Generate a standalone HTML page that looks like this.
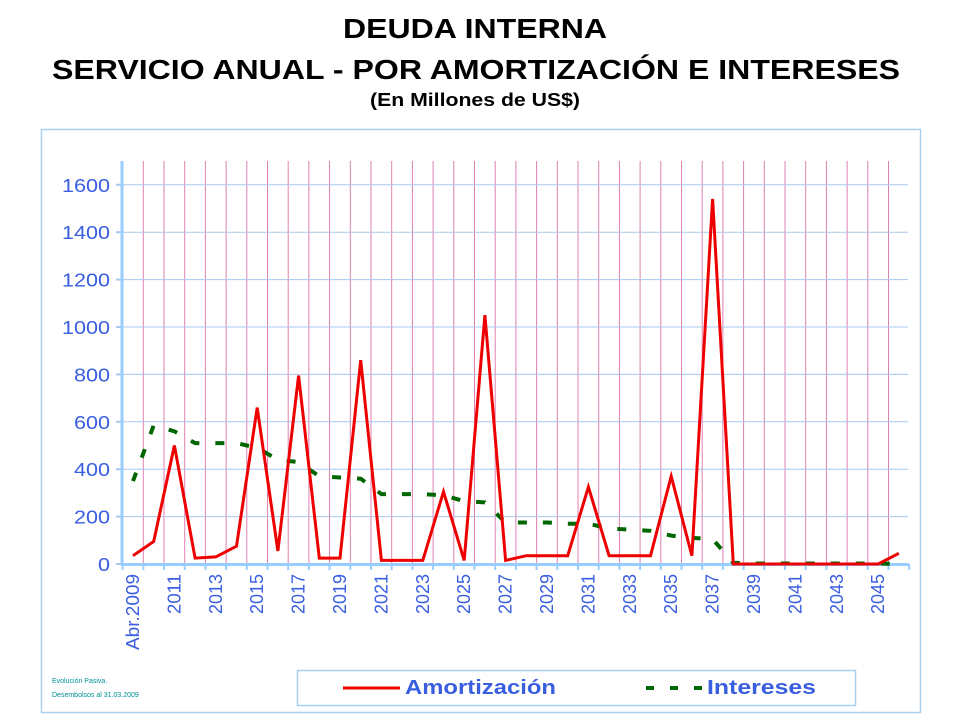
<!DOCTYPE html>
<html><head><meta charset="utf-8"><style>
body{margin:0;background:#fff;}
svg{display:block;font-family:"Liberation Sans",sans-serif;}
</style></head><body>
<svg width="960" height="720" viewBox="0 0 960 720">
<text x="343" y="38" font-size="28" font-weight="bold" textLength="264" lengthAdjust="spacingAndGlyphs">DEUDA INTERNA</text>
<text x="52" y="79" font-size="28" font-weight="bold" textLength="848" lengthAdjust="spacingAndGlyphs">SERVICIO ANUAL - POR AMORTIZACIÓN E INTERESES</text>
<text x="370" y="106" font-size="18" font-weight="bold" textLength="210" lengthAdjust="spacingAndGlyphs">(En Millones de US$)</text>
<rect x="41.5" y="129.5" width="879" height="583" fill="none" stroke="#a8d0f0" stroke-width="1.5"/>
<g id="grid"></g>
<g id="lbl" fill="#3a5ee0" font-size="18"></g>
<rect x="297.5" y="670.5" width="558" height="35" fill="none" stroke="#a8d0f0" stroke-width="1.5"/>
<line x1="343" y1="688" x2="400" y2="688" stroke="#ee0000" stroke-width="3"/>
<text x="405" y="694" font-size="20" font-weight="bold" fill="#3a5ee0" textLength="151" lengthAdjust="spacingAndGlyphs">Amortización</text>
<line x1="646" y1="688" x2="705" y2="688" stroke="#006600" stroke-width="4" stroke-dasharray="8,16"/>
<text x="707" y="694" font-size="20" font-weight="bold" fill="#3a5ee0" textLength="109" lengthAdjust="spacingAndGlyphs">Intereses</text>
<text x="52" y="683" font-size="7" fill="#009090">Evolución Pasiva.</text>
<text x="52" y="697" font-size="7" fill="#009090">Desembolsos al 31.03.2009</text>
</svg>
<script>
var ns="http://www.w3.org/2000/svg",g=document.getElementById('grid'),L=document.getElementById('lbl');
function el(p,t,a,txt){var e=document.createElementNS(ns,t);for(var k in a)e.setAttribute(k,a[k]);if(txt)e.textContent=txt;p.appendChild(e);return e;}
var x0=122.6,w=20.7,base=564,s=0.237;
for(var k=1;k<38;k++){var x=x0+w*k;el(g,'line',{x1:x,y1:161,x2:x,y2:564,stroke:'#e080b0','stroke-width':1});}
for(var v=200;v<=1600;v+=200){var y=base-v*s;el(g,'line',{x1:x0,y1:y,x2:908,y2:y,stroke:'#a8c8ee','stroke-width':1});}
for(var v=0;v<=1600;v+=200){var y=base-v*s;el(g,'line',{x1:116,y1:y,x2:122,y2:y,stroke:'#a8c8ee','stroke-width':2});var t=String(v);el(L,'text',{x:110,y:y+7,'text-anchor':'end',textLength:t.length*12,lengthAdjust:'spacingAndGlyphs'},t);}
el(g,'line',{x1:122,y1:161,x2:122,y2:565,stroke:'#99ccff','stroke-width':3});
el(g,'line',{x1:121,y1:564.5,x2:909,y2:564.5,stroke:'#99ccff','stroke-width':3});
for(var k=0;k<=38;k++){var x=x0+w*k;el(g,'line',{x1:x,y1:564,x2:x,y2:570,stroke:'#99ccff','stroke-width':2});}
for(var i=0;i<38;i+=2){var x=133+w*i+6;var t=i==0?'Abr.2009':String(2009+i);el(L,'text',{x:x,y:574,'text-anchor':'end',transform:'rotate(-90 '+x+' 574)','font-size':18,textLength:i==0?76:40,lengthAdjust:'spacingAndGlyphs'},t);}
var A=[35,95,500,25,30,75,660,55,795,25,25,860,15,15,15,305,15,1050,15,35,35,35,325,35,35,35,370,35,1540,0,0,0,0,0,0,0,0,45];
var I=[350,585,560,510,510,510,490,440,430,370,365,360,295,295,295,290,265,260,175,175,175,170,170,150,145,140,120,110,105,5,2,2,2,2,2,2,2,0];
function pts(a){return a.map(function(v,i){return (133+w*i).toFixed(1)+','+(base-v*s).toFixed(1)}).join(' ');}
var svg=document.querySelector('svg');
el(svg,'polyline',{points:pts(I),fill:'none',stroke:'#006600','stroke-width':4,'stroke-dasharray':'9,16'});
el(svg,'polyline',{points:pts(A),fill:'none',stroke:'#ee0000','stroke-width':3,'stroke-linejoin':'miter'});
</script>
</body></html>
